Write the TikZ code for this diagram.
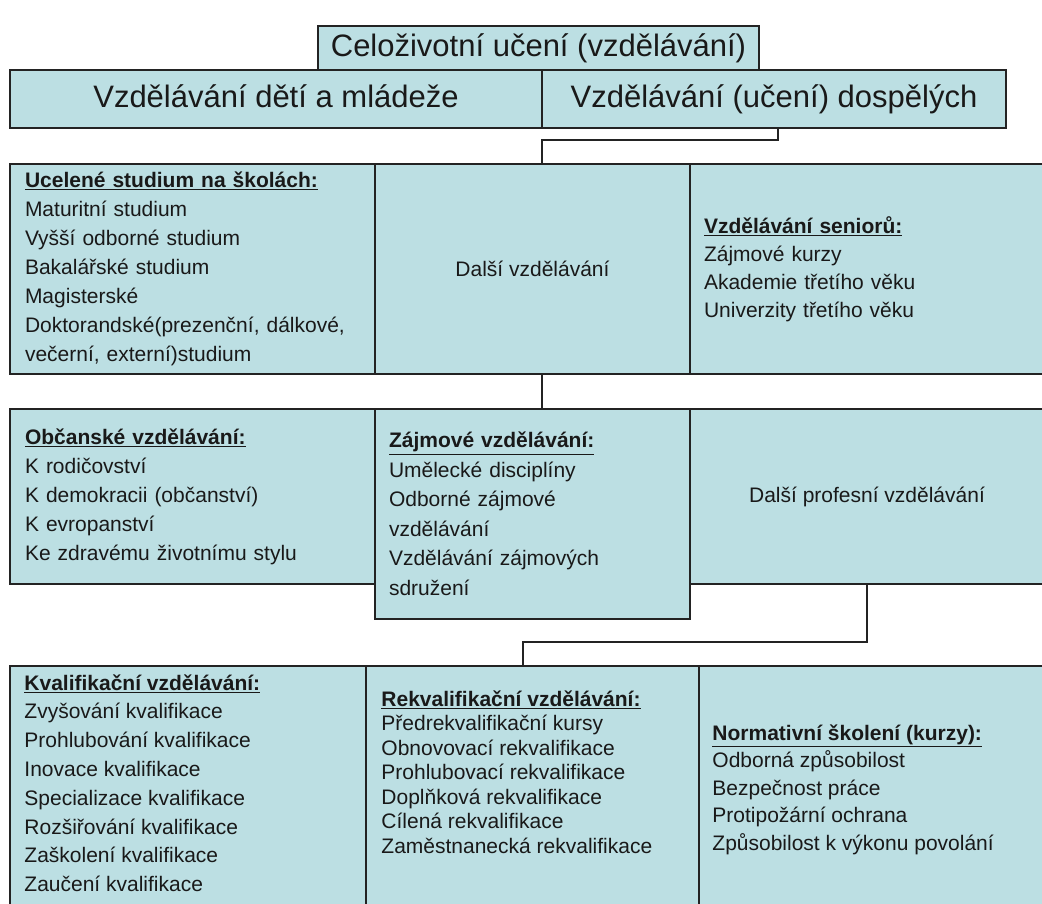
\documentclass[tikz,border=0pt]{standalone}
\usepackage{fontspec}
\setmainfont{Liberation Sans}
\usepackage{tikz}
\usetikzlibrary{calc}

\definecolor{boxfill}{RGB}{188,223,227}
\definecolor{edge}{RGB}{35,35,35}
\definecolor{ink}{RGB}{25,25,25}

\begin{document}
\begin{tikzpicture}[x=1pt,y=-1pt,
  box/.style={draw=edge, fill=boxfill, line width=1.5pt, inner sep=0pt, text=ink},
  big/.style={font=\fontsize{31}{36}\selectfont, text height=23pt, text depth=6pt},
  body/.style={font=\fontsize{21}{29}\selectfont},
  listbox/.style={align=left, inner xsep=#1},
  txt/.style={inner sep=0pt, align=left, text=ink, anchor=north west},
  conn/.style={draw=edge, line width=1.5pt}]
  \useasboundingbox (0,0) rectangle (1042,903);
  \clip (0,0) rectangle (1042,903);

  %% Top of the hierarchy
  \node[box, big, minimum width=441pt, minimum height=44pt] (celo) at (538.5,48) {Celoživotní učení (vzdělávání)};
  \node[box, big, minimum width=532pt, minimum height=58pt] (deti) at (276,99) {Vzdělávání dětí a mládeže};
  \node[box, big, minimum width=464pt, minimum height=58pt] (dosp) at (774,99) {Vzdělávání (učení) dospělých};

  %% Row with school studies
  \node[box, body, listbox=15pt, text width=335pt, minimum width=365pt, minimum height=210pt] (ucel) at (192.5,269)
    {\underline{\textbf{Ucelené studium na školách:}}\\
     Maturitní studium\\
     Vyšší odborné studium\\
     Bakalářské studium\\
     Magisterské\\
     Doktorandské(prezenční, dálkové,\\
     večerní, externí)studium};
  \node[box, body, minimum width=315pt, minimum height=210pt] (dalsi) at (532.5,269) {Další vzdělávání};
  \node[box, listbox=14pt, text width=326pt, minimum width=354pt, minimum height=210pt,
        font=\fontsize{21}{28}\selectfont] (senior) at (867,269)
    {\underline{\textbf{Vzdělávání seniorů:}}\\
     Zájmové kurzy\\
     Akademie třetího věku\\
     Univerzity třetího věku};

  %% Row with further education
  \node[box, body, listbox=15pt, text width=335pt, minimum width=365pt, minimum height=175pt] (obc) at (192.5,496.5)
    {\underline{\textbf{Občanské vzdělávání:}}\\
     K rodičovství\\
     K demokracii (občanství)\\
     K evropanství\\
     Ke zdravému životnímu stylu};
  \node[box, listbox=14pt, text width=287pt, minimum width=315pt, minimum height=210pt,
        font=\fontsize{21}{29.5}\selectfont] (zajm) at (532.5,514)
    {\underline{\textbf{Zájmové vzdělávání:}}\\
     Umělecké disciplíny\\
     Odborné zájmové\\
     vzdělávání\\
     Vzdělávání zájmových\\
     sdružení};
  \node[box, body, minimum width=354pt, minimum height=175pt] (prof) at (867,496.5) {Další profesní vzdělávání};

  %% Bottom row, cut by the lower edge
  \foreach \n/\x/\w in {kval/188/356, rekv/532.5/333, norm/871.5/345}
  {
    \node[box, minimum width=\w pt, minimum height=244pt] (\n) at (\x,788) {};
  }

  \node[txt, font=\fontsize{21}{28.8}\selectfont] (kvaltxt) at ($(kval.north west)+(15,9)$)
    {\underline{\textbf{Kvalifikační vzdělávání:}}\\
     Zvyšování kvalifikace\\
     Prohlubování kvalifikace\\
     Inovace kvalifikace\\
     Specializace kvalifikace\\
     Rozšiřování kvalifikace\\
     Zaškolení kvalifikace\\
     Zaučení kvalifikace};
  \node[txt, font=\fontsize{21}{24.5}\selectfont] (rekvtxt) at ($(rekv.north west)+(16,25)$)
    {\underline{\textbf{Rekvalifikační vzdělávání:}}\\
     Předrekvalifikační kursy\\
     Obnovovací rekvalifikace\\
     Prohlubovací rekvalifikace\\
     Doplňková rekvalifikace\\
     Cílená rekvalifikace\\
     Zaměstnanecká rekvalifikace};
  \node[txt, font=\fontsize{21}{27.5}\selectfont] (normtxt) at ($(norm.north west)+(14,59)$)
    {\underline{\textbf{Normativní školení (kurzy):}}\\
     Odborná způsobilost\\
     Bezpečnost práce\\
     Protipožární ochrana\\
     Způsobilost k výkonu povolání};

  %% Connectors
  \coordinate (k1) at (778,140);
  \coordinate (k2) at (542,140);
  \coordinate (k3) at (867,642);
  \coordinate (k4) at (523,642);
  \draw[conn] (k1 |- dosp.south) -- (k1) -- (k2) -- (k2 |- dalsi.north);
  \draw[conn] (k2 |- dalsi.south) -- (k2 |- zajm.north);
  \draw[conn] (k3 |- prof.south) -- (k3) -- (k4) -- (k4 |- rekv.north);
\end{tikzpicture}
\end{document}
